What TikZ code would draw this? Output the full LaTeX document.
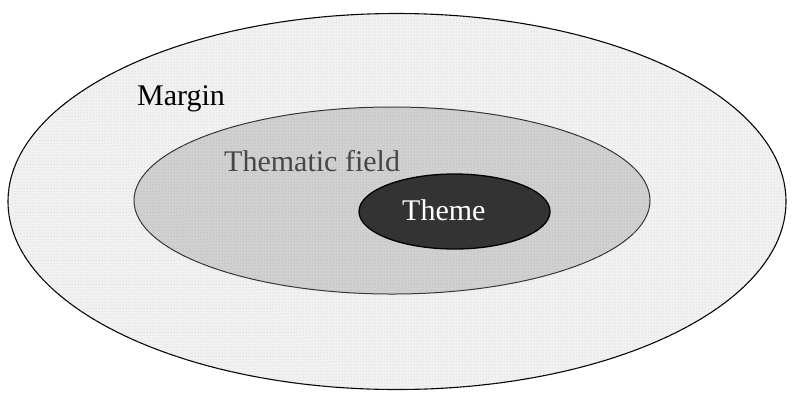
\documentclass[tikz,border=0pt]{standalone}
\usepackage{fontspec}
\setmainfont{Liberation Serif}
\usetikzlibrary{shapes.geometric,patterns}

\begin{document}
\begin{tikzpicture}[x=1pt,y=-1pt,
    zone/.style={ellipse,inner sep=0pt,draw=black},
    lbl/.style={anchor=base west,inner sep=0pt,font=\fontsize{30}{36}\selectfont}]

    \useasboundingbox (0,0) rectangle (792,392);

    \node (margin) [zone,line width=1.1pt,fill=gray!10,
      postaction={pattern=dots,pattern color=gray!45},
      minimum width=778,minimum height=376] at (397,201.5) {};

    \node (field) [zone,draw=black!80,line width=1pt,fill=gray!36,
      postaction={pattern=dots,pattern color=gray!70},
      minimum width=516,minimum height=187] at (392,200.5) {};

    \node (theme) [zone,line width=1.3pt,fill=black!80,
      minimum width=191,minimum height=75] at (454.5,211.5) {};

    \node (tmargin) [lbl] at (137,105) {Margin};
    \node (tfield) [lbl,text=black!72] at (224,171) {Thematic field};
    \node (ttheme) [lbl,text=white] at (402,220) {Theme};
  \end{tikzpicture}
\end{document}
